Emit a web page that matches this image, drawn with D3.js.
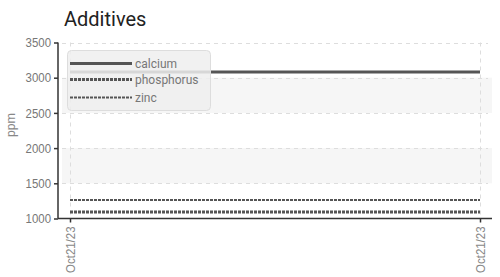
<!DOCTYPE html>
<html>
<head>
<meta charset="utf-8">
<script src="https://cdn.jsdelivr.net/npm/d3@7"></script>
<style>
  body { margin: 0; background: #fff; }
  svg { display: block; font-family: Roboto, sans-serif; }
</style>
</head>
<body>
<div id="chart"></div>
<script>
// data
const dates = ['2023-10-21T01:00', '2023-10-21T23:00'];
const calcium = [3080, 3080];
const phosphorus = [1092, 1092];
const zinc = [1262, 1262];
const yTicks = [1000, 1500, 2000, 2500, 3000, 3500];

const series = [
  {name: 'calcium', values: calcium, width: 3, dash: null},
  {name: 'phosphorus', values: phosphorus, width: 3, dash: '3,1'},
  {name: 'zinc', values: zinc, width: 2, dash: '3,1'}
];

const W = 500, H = 277;
const mLeft = 58, mRight = 492, mTop = 42.5, mBottom = 218.5;
const parse = d3.timeParse('%Y-%m-%dT%H:%M');
const times = dates.map(parse);

const x = d3.scaleTime().domain(d3.extent(times)).range([70, 480]);
const y = d3.scaleLinear().domain([1000, 3500]).range([mBottom, mTop]);

const svg = d3.select('#chart').append('svg')
  .attr('width', W).attr('height', H);

// alternating bands
const bands = yTicks.slice(0, -1).map((v, i) => [v, yTicks[i + 1]]).filter((b, i) => i % 2 === 1);
svg.append('g').selectAll('rect').data(bands).join('rect')
  .attr('x', mLeft + 4).attr('width', mRight - mLeft - 4)
  .attr('y', d => y(d[1])).attr('height', d => y(d[0]) - y(d[1]))
  .attr('fill', '#f6f6f6');

// grid
svg.append('g').selectAll('line').data(yTicks.slice(1)).join('line')
  .attr('x1', mLeft + 4).attr('x2', mRight - 4)
  .attr('y1', d => Math.round(y(d)) + 0.5).attr('y2', d => Math.round(y(d)) + 0.5)
  .attr('stroke', '#ddd').attr('stroke-dasharray', '4,4');
svg.append('g').selectAll('line').data(times).join('line')
  .attr('x1', d => Math.round(x(d)) + 0.5).attr('x2', d => Math.round(x(d)) + 0.5)
  .attr('y1', mTop).attr('y2', mBottom)
  .attr('stroke', '#ddd').attr('stroke-dasharray', '4,4');

// lines
const line = d3.line().x((d, i) => x(times[i])).y(d => y(d));
svg.append('g').selectAll('path').data(series).join('path')
  .attr('d', d => line(d.values))
  .attr('fill', 'none')
  .attr('stroke', '#555')
  .attr('stroke-width', d => d.width)
  .attr('stroke-dasharray', d => d.dash);

// axes
const yAxis = svg.append('g').attr('transform', `translate(${mLeft},0)`)
  .call(d3.axisLeft(y).tickValues(yTicks).tickFormat(d3.format('d'))
    .tickSize(4).tickPadding(3).tickSizeOuter(0));
const xAxis = svg.append('g').attr('transform', `translate(0,${mBottom})`)
  .call(d3.axisBottom(x).tickValues(times).tickSize(4).tickSizeOuter(0)
    .tickFormat(d3.timeFormat('%b%d/%y')));
xAxis.select('.domain').attr('d', `M${mLeft},0H${mRight}`);
yAxis.select('.domain').attr('d', `M0,${mTop}V${mBottom}`);
svg.selectAll('.domain, .tick line').attr('stroke', '#333').attr('stroke-width', 1.5);
yAxis.selectAll('text').attr('fill', '#777').style('font-size', '13px')
  .attr('transform', 'scale(0.88,1)').attr('x', -7 / 0.88).attr('dx', 0);
xAxis.selectAll('text').attr('fill', '#888').style('font-size', '13px')
  .attr('transform', 'rotate(-90) scale(0.88,1)')
  .attr('text-anchor', 'end').attr('x', -8 / 0.88).attr('y', 0).attr('dy', '0.35em');

// y label
svg.append('text').attr('transform', 'translate(15,125) rotate(-90)')
  .attr('text-anchor', 'middle').attr('fill', '#888').style('font-size', '12px')
  .text('ppm');

// title
svg.append('text').attr('x', 64).attr('y', 26)
  .attr('fill', '#222').style('font-size', '20px').text('Additives');

// legend
const legend = svg.append('g');
legend.append('rect').attr('x', 67.5).attr('y', 50.5).attr('width', 143).attr('height', 60)
  .attr('rx', 4).attr('fill', '#eee').attr('fill-opacity', 0.85).attr('stroke', '#ddd');
const item = legend.selectAll('g').data(series).join('g')
  .attr('transform', (d, i) => `translate(70,${[63.5, 79.5, 97.5][i]})`);
item.append('line').attr('x1', 0).attr('x2', 62)
  .attr('stroke', '#555').attr('stroke-width', d => d.width).attr('stroke-dasharray', d => d.dash);
item.append('text').attr('x', 65).attr('dy', '0.35em').attr('fill', '#777')
  .style('font-size', '12px').text(d => d.name);
</script>
</body>
</html>
